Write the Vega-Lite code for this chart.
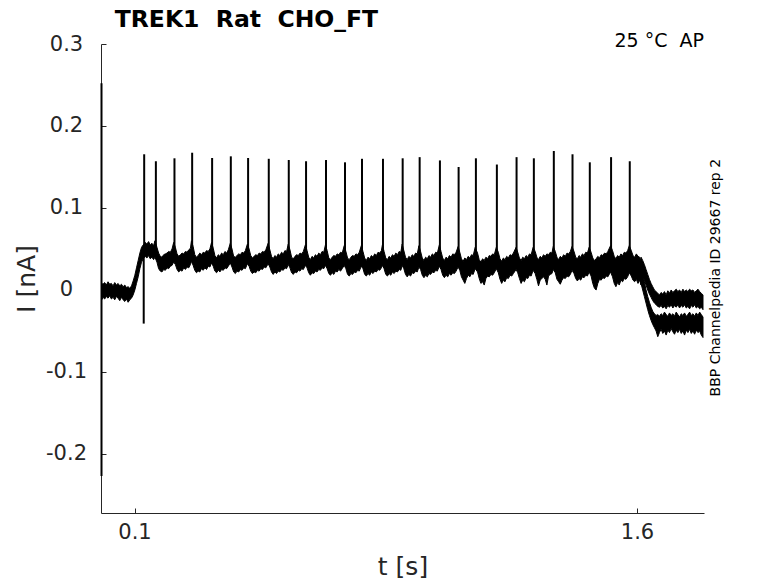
{
  "$schema": "https://vega.github.io/schema/vega-lite/v6.json",
  "width": 603,
  "height": 469,
  "autosize": {"type": "none"},
  "padding": {"left": 101, "top": 44, "right": 74, "bottom": 70},
  "datasets": {
    "band": [
      {"s":"m","t":0.002,"lo":-0.012,"hi":0.008},
      {"s":"m","t":0.006,"lo":-0.009,"hi":0.007},
      {"s":"m","t":0.011,"lo":-0.011,"hi":0.009},
      {"s":"m","t":0.016,"lo":-0.008,"hi":0.006},
      {"s":"m","t":0.021,"lo":-0.010,"hi":0.010},
      {"s":"m","t":0.026,"lo":-0.007,"hi":0.007},
      {"s":"m","t":0.031,"lo":-0.011,"hi":0.008},
      {"s":"m","t":0.036,"lo":-0.009,"hi":0.005},
      {"s":"m","t":0.041,"lo":-0.012,"hi":0.009},
      {"s":"m","t":0.046,"lo":-0.008,"hi":0.006},
      {"s":"m","t":0.051,"lo":-0.010,"hi":0.008},
      {"s":"m","t":0.056,"lo":-0.013,"hi":0.005},
      {"s":"m","t":0.061,"lo":-0.009,"hi":0.007},
      {"s":"m","t":0.066,"lo":-0.012,"hi":0.004},
      {"s":"m","t":0.071,"lo":-0.014,"hi":0.006},
      {"s":"m","t":0.076,"lo":-0.011,"hi":0.003},
      {"s":"m","t":0.081,"lo":-0.015,"hi":0.004},
      {"s":"m","t":0.086,"lo":-0.012,"hi":0.002},
      {"s":"m","t":0.091,"lo":-0.010,"hi":0.005},
      {"s":"m","t":0.096,"lo":-0.006,"hi":0.011},
      {"s":"m","t":0.101,"lo":0.000,"hi":0.018},
      {"s":"m","t":0.106,"lo":0.008,"hi":0.027},
      {"s":"m","t":0.111,"lo":0.016,"hi":0.036},
      {"s":"m","t":0.116,"lo":0.026,"hi":0.045},
      {"s":"m","t":0.121,"lo":0.034,"hi":0.052},
      {"s":"m","t":0.126,"lo":0.038,"hi":0.055},
      {"s":"m","t":0.132,"lo":0.041,"hi":0.058},
      {"s":"m","t":0.137,"lo":0.039,"hi":0.056},
      {"s":"m","t":0.142,"lo":0.042,"hi":0.059},
      {"s":"m","t":0.147,"lo":0.038,"hi":0.055},
      {"s":"m","t":0.152,"lo":0.040,"hi":0.057},
      {"s":"m","t":0.157,"lo":0.037,"hi":0.054},
      {"s":"m","t":0.161,"lo":0.040,"hi":0.060},
      {"s":"m","t":0.167,"lo":0.034,"hi":0.052},
      {"s":"m","t":0.172,"lo":0.026,"hi":0.045},
      {"s":"m","t":0.177,"lo":0.023,"hi":0.041},
      {"s":"m","t":0.182,"lo":0.022,"hi":0.040},
      {"s":"m","t":0.187,"lo":0.025,"hi":0.043},
      {"s":"m","t":0.192,"lo":0.024,"hi":0.044},
      {"s":"m","t":0.197,"lo":0.027,"hi":0.045},
      {"s":"m","t":0.202,"lo":0.026,"hi":0.047},
      {"s":"m","t":0.207,"lo":0.029,"hi":0.046},
      {"s":"m","t":0.212,"lo":0.030,"hi":0.050},
      {"s":"m","t":0.217,"lo":0.034,"hi":0.058},
      {"s":"m","t":0.222,"lo":0.031,"hi":0.052},
      {"s":"m","t":0.227,"lo":0.025,"hi":0.044},
      {"s":"m","t":0.232,"lo":0.022,"hi":0.041},
      {"s":"m","t":0.237,"lo":0.024,"hi":0.043},
      {"s":"m","t":0.242,"lo":0.023,"hi":0.045},
      {"s":"m","t":0.247,"lo":0.027,"hi":0.044},
      {"s":"m","t":0.252,"lo":0.025,"hi":0.047},
      {"s":"m","t":0.257,"lo":0.028,"hi":0.046},
      {"s":"m","t":0.262,"lo":0.027,"hi":0.049},
      {"s":"m","t":0.267,"lo":0.031,"hi":0.051},
      {"s":"m","t":0.270,"lo":0.035,"hi":0.060},
      {"s":"m","t":0.275,"lo":0.030,"hi":0.053},
      {"s":"m","t":0.280,"lo":0.024,"hi":0.043},
      {"s":"m","t":0.285,"lo":0.021,"hi":0.040},
      {"s":"m","t":0.290,"lo":0.023,"hi":0.042},
      {"s":"m","t":0.295,"lo":0.022,"hi":0.045},
      {"s":"m","t":0.300,"lo":0.026,"hi":0.043},
      {"s":"m","t":0.305,"lo":0.024,"hi":0.046},
      {"s":"m","t":0.310,"lo":0.027,"hi":0.045},
      {"s":"m","t":0.315,"lo":0.025,"hi":0.048},
      {"s":"m","t":0.320,"lo":0.029,"hi":0.047},
      {"s":"m","t":0.325,"lo":0.028,"hi":0.050},
      {"s":"m","t":0.330,"lo":0.033,"hi":0.058},
      {"s":"m","t":0.335,"lo":0.029,"hi":0.051},
      {"s":"m","t":0.340,"lo":0.023,"hi":0.042},
      {"s":"m","t":0.345,"lo":0.021,"hi":0.039},
      {"s":"m","t":0.350,"lo":0.024,"hi":0.043},
      {"s":"m","t":0.355,"lo":0.022,"hi":0.041},
      {"s":"m","t":0.360,"lo":0.025,"hi":0.045},
      {"s":"m","t":0.365,"lo":0.024,"hi":0.043},
      {"s":"m","t":0.370,"lo":0.027,"hi":0.047},
      {"s":"m","t":0.375,"lo":0.026,"hi":0.045},
      {"s":"m","t":0.380,"lo":0.029,"hi":0.049},
      {"s":"m","t":0.386,"lo":0.033,"hi":0.057},
      {"s":"m","t":0.391,"lo":0.028,"hi":0.050},
      {"s":"m","t":0.396,"lo":0.022,"hi":0.041},
      {"s":"m","t":0.401,"lo":0.020,"hi":0.040},
      {"s":"m","t":0.406,"lo":0.023,"hi":0.042},
      {"s":"m","t":0.411,"lo":0.022,"hi":0.044},
      {"s":"m","t":0.416,"lo":0.025,"hi":0.043},
      {"s":"m","t":0.421,"lo":0.024,"hi":0.046},
      {"s":"m","t":0.426,"lo":0.027,"hi":0.045},
      {"s":"m","t":0.431,"lo":0.026,"hi":0.048},
      {"s":"m","t":0.437,"lo":0.032,"hi":0.056},
      {"s":"m","t":0.442,"lo":0.029,"hi":0.050},
      {"s":"m","t":0.447,"lo":0.023,"hi":0.042},
      {"s":"m","t":0.452,"lo":0.020,"hi":0.039},
      {"s":"m","t":0.457,"lo":0.022,"hi":0.041},
      {"s":"m","t":0.462,"lo":0.021,"hi":0.043},
      {"s":"m","t":0.467,"lo":0.024,"hi":0.042},
      {"s":"m","t":0.472,"lo":0.023,"hi":0.045},
      {"s":"m","t":0.477,"lo":0.026,"hi":0.044},
      {"s":"m","t":0.482,"lo":0.025,"hi":0.047},
      {"s":"m","t":0.487,"lo":0.028,"hi":0.046},
      {"s":"m","t":0.492,"lo":0.027,"hi":0.049},
      {"s":"m","t":0.499,"lo":0.032,"hi":0.057},
      {"s":"m","t":0.504,"lo":0.028,"hi":0.049},
      {"s":"m","t":0.509,"lo":0.022,"hi":0.041},
      {"s":"m","t":0.514,"lo":0.019,"hi":0.038},
      {"s":"m","t":0.519,"lo":0.022,"hi":0.042},
      {"s":"m","t":0.524,"lo":0.020,"hi":0.040},
      {"s":"m","t":0.529,"lo":0.023,"hi":0.044},
      {"s":"m","t":0.534,"lo":0.022,"hi":0.042},
      {"s":"m","t":0.539,"lo":0.025,"hi":0.046},
      {"s":"m","t":0.544,"lo":0.024,"hi":0.044},
      {"s":"m","t":0.549,"lo":0.027,"hi":0.048},
      {"s":"m","t":0.554,"lo":0.026,"hi":0.047},
      {"s":"m","t":0.559,"lo":0.031,"hi":0.056},
      {"s":"m","t":0.564,"lo":0.027,"hi":0.049},
      {"s":"m","t":0.569,"lo":0.021,"hi":0.040},
      {"s":"m","t":0.574,"lo":0.019,"hi":0.038},
      {"s":"m","t":0.579,"lo":0.022,"hi":0.041},
      {"s":"m","t":0.584,"lo":0.021,"hi":0.043},
      {"s":"m","t":0.589,"lo":0.024,"hi":0.042},
      {"s":"m","t":0.594,"lo":0.023,"hi":0.045},
      {"s":"m","t":0.599,"lo":0.026,"hi":0.044},
      {"s":"m","t":0.604,"lo":0.025,"hi":0.047},
      {"s":"m","t":0.610,"lo":0.030,"hi":0.055},
      {"s":"m","t":0.615,"lo":0.027,"hi":0.048},
      {"s":"m","t":0.620,"lo":0.021,"hi":0.040},
      {"s":"m","t":0.625,"lo":0.018,"hi":0.037},
      {"s":"m","t":0.630,"lo":0.021,"hi":0.041},
      {"s":"m","t":0.635,"lo":0.020,"hi":0.039},
      {"s":"m","t":0.640,"lo":0.023,"hi":0.043},
      {"s":"m","t":0.645,"lo":0.022,"hi":0.041},
      {"s":"m","t":0.650,"lo":0.025,"hi":0.045},
      {"s":"m","t":0.655,"lo":0.024,"hi":0.043},
      {"s":"m","t":0.660,"lo":0.027,"hi":0.047},
      {"s":"m","t":0.665,"lo":0.026,"hi":0.046},
      {"s":"m","t":0.670,"lo":0.030,"hi":0.055},
      {"s":"m","t":0.675,"lo":0.026,"hi":0.048},
      {"s":"m","t":0.680,"lo":0.020,"hi":0.039},
      {"s":"m","t":0.685,"lo":0.018,"hi":0.037},
      {"s":"m","t":0.690,"lo":0.021,"hi":0.040},
      {"s":"m","t":0.695,"lo":0.019,"hi":0.042},
      {"s":"m","t":0.700,"lo":0.023,"hi":0.041},
      {"s":"m","t":0.705,"lo":0.022,"hi":0.044},
      {"s":"m","t":0.710,"lo":0.025,"hi":0.043},
      {"s":"m","t":0.715,"lo":0.023,"hi":0.046},
      {"s":"m","t":0.720,"lo":0.026,"hi":0.045},
      {"s":"m","t":0.726,"lo":0.030,"hi":0.054},
      {"s":"m","t":0.731,"lo":0.026,"hi":0.047},
      {"s":"m","t":0.736,"lo":0.019,"hi":0.039},
      {"s":"m","t":0.741,"lo":0.017,"hi":0.037},
      {"s":"m","t":0.746,"lo":0.020,"hi":0.040},
      {"s":"m","t":0.751,"lo":0.019,"hi":0.042},
      {"s":"m","t":0.756,"lo":0.022,"hi":0.041},
      {"s":"m","t":0.761,"lo":0.021,"hi":0.044},
      {"s":"m","t":0.766,"lo":0.024,"hi":0.043},
      {"s":"m","t":0.771,"lo":0.023,"hi":0.046},
      {"s":"m","t":0.777,"lo":0.029,"hi":0.054},
      {"s":"m","t":0.782,"lo":0.026,"hi":0.047},
      {"s":"m","t":0.787,"lo":0.019,"hi":0.039},
      {"s":"m","t":0.792,"lo":0.017,"hi":0.036},
      {"s":"m","t":0.797,"lo":0.020,"hi":0.040},
      {"s":"m","t":0.802,"lo":0.018,"hi":0.038},
      {"s":"m","t":0.807,"lo":0.022,"hi":0.042},
      {"s":"m","t":0.812,"lo":0.020,"hi":0.040},
      {"s":"m","t":0.817,"lo":0.023,"hi":0.044},
      {"s":"m","t":0.822,"lo":0.022,"hi":0.042},
      {"s":"m","t":0.827,"lo":0.025,"hi":0.046},
      {"s":"m","t":0.832,"lo":0.024,"hi":0.045},
      {"s":"m","t":0.837,"lo":0.027,"hi":0.048},
      {"s":"m","t":0.840,"lo":0.030,"hi":0.055},
      {"s":"m","t":0.845,"lo":0.026,"hi":0.047},
      {"s":"m","t":0.850,"lo":0.019,"hi":0.039},
      {"s":"m","t":0.855,"lo":0.017,"hi":0.037},
      {"s":"m","t":0.860,"lo":0.020,"hi":0.041},
      {"s":"m","t":0.865,"lo":0.018,"hi":0.039},
      {"s":"m","t":0.870,"lo":0.022,"hi":0.043},
      {"s":"m","t":0.875,"lo":0.020,"hi":0.041},
      {"s":"m","t":0.880,"lo":0.023,"hi":0.045},
      {"s":"m","t":0.885,"lo":0.022,"hi":0.043},
      {"s":"m","t":0.890,"lo":0.025,"hi":0.047},
      {"s":"m","t":0.895,"lo":0.024,"hi":0.046},
      {"s":"m","t":0.899,"lo":0.030,"hi":0.056},
      {"s":"m","t":0.904,"lo":0.026,"hi":0.048},
      {"s":"m","t":0.909,"lo":0.019,"hi":0.040},
      {"s":"m","t":0.914,"lo":0.016,"hi":0.037},
      {"s":"m","t":0.919,"lo":0.019,"hi":0.041},
      {"s":"m","t":0.924,"lo":0.017,"hi":0.039},
      {"s":"m","t":0.929,"lo":0.021,"hi":0.043},
      {"s":"m","t":0.934,"lo":0.020,"hi":0.041},
      {"s":"m","t":0.939,"lo":0.023,"hi":0.045},
      {"s":"m","t":0.944,"lo":0.022,"hi":0.044},
      {"s":"m","t":0.949,"lo":0.028,"hi":0.054},
      {"s":"m","t":0.954,"lo":0.025,"hi":0.047},
      {"s":"m","t":0.959,"lo":0.018,"hi":0.039},
      {"s":"m","t":0.964,"lo":0.015,"hi":0.036},
      {"s":"m","t":0.969,"lo":0.018,"hi":0.040},
      {"s":"m","t":0.974,"lo":0.016,"hi":0.038},
      {"s":"m","t":0.979,"lo":0.020,"hi":0.042},
      {"s":"m","t":0.984,"lo":0.019,"hi":0.040},
      {"s":"m","t":0.989,"lo":0.022,"hi":0.044},
      {"s":"m","t":0.994,"lo":0.021,"hi":0.042},
      {"s":"m","t":0.999,"lo":0.024,"hi":0.046},
      {"s":"m","t":1.004,"lo":0.023,"hi":0.045},
      {"s":"m","t":1.010,"lo":0.029,"hi":0.055},
      {"s":"m","t":1.015,"lo":0.025,"hi":0.047},
      {"s":"m","t":1.020,"lo":0.018,"hi":0.039},
      {"s":"m","t":1.025,"lo":0.015,"hi":0.036},
      {"s":"m","t":1.030,"lo":0.018,"hi":0.040},
      {"s":"m","t":1.035,"lo":0.016,"hi":0.038},
      {"s":"m","t":1.040,"lo":0.020,"hi":0.042},
      {"s":"m","t":1.045,"lo":0.018,"hi":0.040},
      {"s":"m","t":1.050,"lo":0.021,"hi":0.044},
      {"s":"m","t":1.055,"lo":0.020,"hi":0.043},
      {"s":"m","t":1.060,"lo":0.023,"hi":0.046},
      {"s":"m","t":1.066,"lo":0.028,"hi":0.053},
      {"s":"m","t":1.071,"lo":0.024,"hi":0.046},
      {"s":"m","t":1.076,"lo":0.016,"hi":0.038},
      {"s":"m","t":1.081,"lo":0.012,"hi":0.035},
      {"s":"m","t":1.086,"lo":0.008,"hi":0.039},
      {"s":"m","t":1.091,"lo":0.014,"hi":0.037},
      {"s":"m","t":1.096,"lo":0.018,"hi":0.041},
      {"s":"m","t":1.101,"lo":0.016,"hi":0.039},
      {"s":"m","t":1.106,"lo":0.020,"hi":0.043},
      {"s":"m","t":1.111,"lo":0.019,"hi":0.042},
      {"s":"m","t":1.117,"lo":0.026,"hi":0.052},
      {"s":"m","t":1.124,"lo":0.022,"hi":0.045},
      {"s":"m","t":1.129,"lo":0.014,"hi":0.037},
      {"s":"m","t":1.134,"lo":0.008,"hi":0.034},
      {"s":"m","t":1.139,"lo":0.010,"hi":0.038},
      {"s":"m","t":1.144,"lo":0.006,"hi":0.036},
      {"s":"m","t":1.149,"lo":0.014,"hi":0.040},
      {"s":"m","t":1.154,"lo":0.017,"hi":0.038},
      {"s":"m","t":1.159,"lo":0.016,"hi":0.042},
      {"s":"m","t":1.164,"lo":0.019,"hi":0.041},
      {"s":"m","t":1.169,"lo":0.018,"hi":0.044},
      {"s":"m","t":1.174,"lo":0.021,"hi":0.043},
      {"s":"m","t":1.180,"lo":0.026,"hi":0.052},
      {"s":"m","t":1.186,"lo":0.021,"hi":0.046},
      {"s":"m","t":1.191,"lo":0.013,"hi":0.038},
      {"s":"m","t":1.196,"lo":0.008,"hi":0.035},
      {"s":"m","t":1.201,"lo":0.012,"hi":0.039},
      {"s":"m","t":1.206,"lo":0.010,"hi":0.037},
      {"s":"m","t":1.211,"lo":0.015,"hi":0.041},
      {"s":"m","t":1.216,"lo":0.014,"hi":0.039},
      {"s":"m","t":1.221,"lo":0.018,"hi":0.043},
      {"s":"m","t":1.226,"lo":0.017,"hi":0.042},
      {"s":"m","t":1.231,"lo":0.020,"hi":0.045},
      {"s":"m","t":1.239,"lo":0.025,"hi":0.052},
      {"s":"m","t":1.244,"lo":0.021,"hi":0.046},
      {"s":"m","t":1.249,"lo":0.014,"hi":0.039},
      {"s":"m","t":1.254,"lo":0.008,"hi":0.036},
      {"s":"m","t":1.259,"lo":0.012,"hi":0.040},
      {"s":"m","t":1.264,"lo":0.010,"hi":0.038},
      {"s":"m","t":1.269,"lo":0.015,"hi":0.042},
      {"s":"m","t":1.274,"lo":0.014,"hi":0.040},
      {"s":"m","t":1.279,"lo":0.018,"hi":0.044},
      {"s":"m","t":1.284,"lo":0.017,"hi":0.043},
      {"s":"m","t":1.290,"lo":0.024,"hi":0.052},
      {"s":"m","t":1.296,"lo":0.020,"hi":0.047},
      {"s":"m","t":1.301,"lo":0.013,"hi":0.040},
      {"s":"m","t":1.306,"lo":0.005,"hi":0.037},
      {"s":"m","t":1.311,"lo":0.012,"hi":0.041},
      {"s":"m","t":1.316,"lo":0.014,"hi":0.039},
      {"s":"m","t":1.321,"lo":0.016,"hi":0.043},
      {"s":"m","t":1.326,"lo":0.013,"hi":0.041},
      {"s":"m","t":1.331,"lo":0.006,"hi":0.044},
      {"s":"m","t":1.336,"lo":0.017,"hi":0.043},
      {"s":"m","t":1.341,"lo":0.019,"hi":0.046},
      {"s":"m","t":1.346,"lo":0.020,"hi":0.045},
      {"s":"m","t":1.350,"lo":0.025,"hi":0.053},
      {"s":"m","t":1.356,"lo":0.021,"hi":0.047},
      {"s":"m","t":1.361,"lo":0.013,"hi":0.040},
      {"s":"m","t":1.366,"lo":0.010,"hi":0.037},
      {"s":"m","t":1.371,"lo":0.007,"hi":0.041},
      {"s":"m","t":1.376,"lo":0.012,"hi":0.039},
      {"s":"m","t":1.381,"lo":0.015,"hi":0.043},
      {"s":"m","t":1.386,"lo":0.014,"hi":0.041},
      {"s":"m","t":1.391,"lo":0.017,"hi":0.045},
      {"s":"m","t":1.396,"lo":0.016,"hi":0.044},
      {"s":"m","t":1.401,"lo":0.019,"hi":0.047},
      {"s":"m","t":1.406,"lo":0.024,"hi":0.053},
      {"s":"m","t":1.412,"lo":0.020,"hi":0.047},
      {"s":"m","t":1.417,"lo":0.014,"hi":0.040},
      {"s":"m","t":1.422,"lo":0.011,"hi":0.038},
      {"s":"m","t":1.427,"lo":0.014,"hi":0.042},
      {"s":"m","t":1.432,"lo":0.012,"hi":0.040},
      {"s":"m","t":1.437,"lo":0.016,"hi":0.044},
      {"s":"m","t":1.442,"lo":0.015,"hi":0.042},
      {"s":"m","t":1.447,"lo":0.018,"hi":0.046},
      {"s":"m","t":1.452,"lo":0.017,"hi":0.045},
      {"s":"m","t":1.457,"lo":0.022,"hi":0.052},
      {"s":"m","t":1.463,"lo":0.017,"hi":0.046},
      {"s":"m","t":1.468,"lo":0.008,"hi":0.039},
      {"s":"m","t":1.473,"lo":0.002,"hi":0.036},
      {"s":"m","t":1.478,"lo":0.000,"hi":0.038},
      {"s":"m","t":1.483,"lo":0.008,"hi":0.041},
      {"s":"m","t":1.488,"lo":0.013,"hi":0.039},
      {"s":"m","t":1.493,"lo":0.012,"hi":0.043},
      {"s":"m","t":1.498,"lo":0.015,"hi":0.042},
      {"s":"m","t":1.503,"lo":0.014,"hi":0.045},
      {"s":"m","t":1.508,"lo":0.017,"hi":0.044},
      {"s":"m","t":1.513,"lo":0.016,"hi":0.047},
      {"s":"m","t":1.521,"lo":0.022,"hi":0.054},
      {"s":"m","t":1.527,"lo":0.016,"hi":0.048},
      {"s":"m","t":1.532,"lo":0.008,"hi":0.041},
      {"s":"m","t":1.537,"lo":0.004,"hi":0.038},
      {"s":"m","t":1.542,"lo":0.009,"hi":0.042},
      {"s":"m","t":1.547,"lo":0.006,"hi":0.040},
      {"s":"m","t":1.552,"lo":0.012,"hi":0.044},
      {"s":"m","t":1.557,"lo":0.010,"hi":0.042},
      {"s":"m","t":1.562,"lo":0.014,"hi":0.046},
      {"s":"m","t":1.567,"lo":0.013,"hi":0.045},
      {"s":"m","t":1.572,"lo":0.016,"hi":0.048},
      {"s":"m","t":1.577,"lo":0.021,"hi":0.054},
      {"s":"m","t":1.583,"lo":0.017,"hi":0.048},
      {"s":"m","t":1.588,"lo":0.012,"hi":0.042},
      {"s":"m","t":1.593,"lo":0.010,"hi":0.040},
      {"s":"m","t":1.598,"lo":0.013,"hi":0.044},
      {"s":"m","t":1.603,"lo":0.008,"hi":0.041},
      {"s":"m","t":1.608,"lo":0.012,"hi":0.040},
      {"s":"m","t":1.612,"lo":0.006,"hi":0.036},
      {"s":"u","t":1.612,"lo":0.022,"hi":0.040},
      {"s":"u","t":1.617,"lo":0.018,"hi":0.036},
      {"s":"u","t":1.622,"lo":0.012,"hi":0.031},
      {"s":"u","t":1.627,"lo":0.006,"hi":0.025},
      {"s":"u","t":1.632,"lo":0.000,"hi":0.019},
      {"s":"u","t":1.637,"lo":-0.005,"hi":0.013},
      {"s":"u","t":1.642,"lo":-0.009,"hi":0.008},
      {"s":"u","t":1.647,"lo":-0.013,"hi":0.004},
      {"s":"u","t":1.652,"lo":-0.016,"hi":0.000},
      {"s":"u","t":1.657,"lo":-0.018,"hi":-0.002},
      {"s":"u","t":1.662,"lo":-0.020,"hi":-0.004},
      {"s":"u","t":1.667,"lo":-0.021,"hi":-0.006},
      {"s":"u","t":1.672,"lo":-0.019,"hi":-0.003},
      {"s":"u","t":1.677,"lo":-0.022,"hi":-0.005},
      {"s":"u","t":1.682,"lo":-0.020,"hi":-0.002},
      {"s":"u","t":1.687,"lo":-0.023,"hi":-0.006},
      {"s":"u","t":1.692,"lo":-0.019,"hi":-0.001},
      {"s":"u","t":1.697,"lo":-0.021,"hi":-0.004},
      {"s":"u","t":1.702,"lo":-0.018,"hi":0.000},
      {"s":"u","t":1.707,"lo":-0.022,"hi":-0.003},
      {"s":"u","t":1.712,"lo":-0.019,"hi":-0.001},
      {"s":"u","t":1.717,"lo":-0.021,"hi":0.001},
      {"s":"u","t":1.722,"lo":-0.018,"hi":-0.002},
      {"s":"u","t":1.727,"lo":-0.022,"hi":0.000},
      {"s":"u","t":1.732,"lo":-0.019,"hi":-0.003},
      {"s":"u","t":1.737,"lo":-0.021,"hi":0.001},
      {"s":"u","t":1.742,"lo":-0.018,"hi":-0.002},
      {"s":"u","t":1.747,"lo":-0.022,"hi":0.000},
      {"s":"u","t":1.752,"lo":-0.020,"hi":-0.002},
      {"s":"u","t":1.757,"lo":-0.023,"hi":0.001},
      {"s":"u","t":1.762,"lo":-0.019,"hi":-0.001},
      {"s":"u","t":1.767,"lo":-0.021,"hi":0.000},
      {"s":"u","t":1.772,"lo":-0.018,"hi":-0.003},
      {"s":"u","t":1.777,"lo":-0.022,"hi":-0.001},
      {"s":"u","t":1.782,"lo":-0.020,"hi":0.001},
      {"s":"u","t":1.787,"lo":-0.023,"hi":-0.002},
      {"s":"u","t":1.792,"lo":-0.021,"hi":-0.004},
      {"s":"u","t":1.797,"lo":-0.024,"hi":-0.006},
      {"s":"l","t":1.612,"lo":0.008,"hi":0.030},
      {"s":"l","t":1.617,"lo":0.000,"hi":0.020},
      {"s":"l","t":1.622,"lo":-0.008,"hi":0.010},
      {"s":"l","t":1.627,"lo":-0.016,"hi":0.000},
      {"s":"l","t":1.632,"lo":-0.024,"hi":-0.008},
      {"s":"l","t":1.637,"lo":-0.031,"hi":-0.015},
      {"s":"l","t":1.642,"lo":-0.037,"hi":-0.021},
      {"s":"l","t":1.647,"lo":-0.042,"hi":-0.026},
      {"s":"l","t":1.652,"lo":-0.046,"hi":-0.029},
      {"s":"l","t":1.657,"lo":-0.050,"hi":-0.031},
      {"s":"l","t":1.662,"lo":-0.057,"hi":-0.030},
      {"s":"l","t":1.667,"lo":-0.052,"hi":-0.032},
      {"s":"l","t":1.672,"lo":-0.048,"hi":-0.029},
      {"s":"l","t":1.677,"lo":-0.053,"hi":-0.031},
      {"s":"l","t":1.682,"lo":-0.050,"hi":-0.027},
      {"s":"l","t":1.687,"lo":-0.055,"hi":-0.030},
      {"s":"l","t":1.692,"lo":-0.049,"hi":-0.032},
      {"s":"l","t":1.697,"lo":-0.052,"hi":-0.028},
      {"s":"l","t":1.702,"lo":-0.047,"hi":-0.031},
      {"s":"l","t":1.707,"lo":-0.051,"hi":-0.029},
      {"s":"l","t":1.712,"lo":-0.054,"hi":-0.032},
      {"s":"l","t":1.717,"lo":-0.049,"hi":-0.027},
      {"s":"l","t":1.722,"lo":-0.052,"hi":-0.030},
      {"s":"l","t":1.727,"lo":-0.048,"hi":-0.033},
      {"s":"l","t":1.732,"lo":-0.053,"hi":-0.029},
      {"s":"l","t":1.737,"lo":-0.050,"hi":-0.031},
      {"s":"l","t":1.742,"lo":-0.055,"hi":-0.028},
      {"s":"l","t":1.747,"lo":-0.049,"hi":-0.032},
      {"s":"l","t":1.752,"lo":-0.052,"hi":-0.030},
      {"s":"l","t":1.757,"lo":-0.048,"hi":-0.027},
      {"s":"l","t":1.762,"lo":-0.053,"hi":-0.031},
      {"s":"l","t":1.767,"lo":-0.050,"hi":-0.029},
      {"s":"l","t":1.772,"lo":-0.054,"hi":-0.032},
      {"s":"l","t":1.777,"lo":-0.049,"hi":-0.028},
      {"s":"l","t":1.782,"lo":-0.052,"hi":-0.031},
      {"s":"l","t":1.787,"lo":-0.050,"hi":-0.027},
      {"s":"l","t":1.792,"lo":-0.055,"hi":-0.030},
      {"s":"l","t":1.797,"lo":-0.058,"hi":-0.033}
    ],
    "spikes": [
      {"t":0.0015,"lo":-0.227,"hi":0.252},
      {"t":0.1275,"lo":-0.041,"hi":0.040},
      {"t":0.1289,"lo":0.040,"hi":0.1655},
      {"t":0.1638,"lo":0.040,"hi":0.157},
      {"t":0.2193,"lo":0.040,"hi":0.1606},
      {"t":0.2721,"lo":0.040,"hi":0.1674},
      {"t":0.3317,"lo":0.040,"hi":0.161},
      {"t":0.3875,"lo":0.040,"hi":0.163},
      {"t":0.4391,"lo":0.040,"hi":0.161},
      {"t":0.5008,"lo":0.040,"hi":0.160},
      {"t":0.5605,"lo":0.040,"hi":0.1585},
      {"t":0.6121,"lo":0.040,"hi":0.157},
      {"t":0.6717,"lo":0.040,"hi":0.1585},
      {"t":0.7284,"lo":0.040,"hi":0.1557},
      {"t":0.7791,"lo":0.040,"hi":0.160},
      {"t":0.8417,"lo":0.040,"hi":0.160},
      {"t":0.9005,"lo":0.040,"hi":0.1606},
      {"t":0.9512,"lo":0.040,"hi":0.162},
      {"t":1.0117,"lo":0.040,"hi":0.158},
      {"t":1.0675,"lo":0.040,"hi":0.150},
      {"t":1.1191,"lo":0.040,"hi":0.1606},
      {"t":1.1817,"lo":0.040,"hi":0.153},
      {"t":1.2405,"lo":0.040,"hi":0.162},
      {"t":1.2921,"lo":0.040,"hi":0.1606},
      {"t":1.3517,"lo":0.040,"hi":0.1695},
      {"t":1.4075,"lo":0.040,"hi":0.1655},
      {"t":1.4591,"lo":0.040,"hi":0.1557},
      {"t":1.5226,"lo":0.040,"hi":0.162},
      {"t":1.5784,"lo":0.040,"hi":0.157}
    ],
    "notes": [
      {"t":0.041,"lo":0.3205,"txt":"TREK1\u00a0 Rat\u00a0 CHO_FT","kind":"title"},
      {"t":1.8,"lo":0.3,"txt":"25 °C\u00a0 AP","kind":"temp"},
      {"t":1.836,"lo":0.015,"txt":"BBP Channelpedia ID 29667 rep 2","kind":"id"}
    ]
  },
  "layer": [
    {
      "data": {"name": "band"},
      "mark": {"type": "area", "color": "black", "stroke": "black", "strokeWidth": 1},
      "encoding": {
        "x": {
          "field": "t",
          "type": "quantitative",
          "title": "t [s]",
          "scale": {"domain": [0, 1.8], "nice": false, "zero": false},
          "axis": {"values": [0.1, 1.6], "labelPadding": 13, "titlePadding": 12}
        },
        "y": {
          "field": "lo",
          "type": "quantitative",
          "title": "I [nA]",
          "scale": {"domain": [-0.272, 0.3], "nice": false, "zero": false},
          "axis": {
            "values": [-0.2, -0.1, 0, 0.1, 0.2, 0.3],
            "labelExpr": "datum.value == 0 ? '0\u00a0\u00a0' : (datum.value < 0 ? '-' : '') + format(abs(datum.value), '.1f')",
            "labelAlign": "center",
            "labelPadding": 40,
            "titlePadding": 6
          }
        },
        "y2": {"field": "hi"},
        "detail": {"field": "s"}
      }
    },
    {
      "data": {"name": "spikes"},
      "mark": {"type": "rule", "color": "black", "strokeWidth": 2},
      "encoding": {
        "x": {"field": "t", "type": "quantitative", "title": "t [s]"},
        "y": {"field": "lo", "type": "quantitative", "title": "I [nA]"},
        "y2": {"field": "hi"}
      }
    },
    {
      "data": {"name": "notes"},
      "transform": [{"filter": "datum.kind == 'title'"}],
      "mark": {"type": "text", "align": "left", "baseline": "alphabetic", "font": "DejaVu Sans", "fontSize": 23.5, "fontWeight": "bold", "color": "black"},
      "encoding": {
        "x": {"field": "t", "type": "quantitative", "title": "t [s]"},
        "y": {"field": "lo", "type": "quantitative", "title": "I [nA]"},
        "text": {"field": "txt"}
      }
    },
    {
      "data": {"name": "notes"},
      "transform": [{"filter": "datum.kind == 'temp'"}],
      "mark": {"type": "text", "align": "right", "baseline": "middle", "dy": -3, "font": "DejaVu Sans", "fontSize": 19, "color": "black"},
      "encoding": {
        "x": {"field": "t", "type": "quantitative", "title": "t [s]"},
        "y": {"field": "lo", "type": "quantitative", "title": "I [nA]"},
        "text": {"field": "txt"}
      }
    },
    {
      "data": {"name": "notes"},
      "transform": [{"filter": "datum.kind == 'id'"}],
      "mark": {"type": "text", "align": "center", "baseline": "middle", "angle": 270, "font": "DejaVu Sans", "fontSize": 14, "color": "black"},
      "encoding": {
        "x": {"field": "t", "type": "quantitative", "title": "t [s]"},
        "y": {"field": "lo", "type": "quantitative", "title": "I [nA]"},
        "text": {"field": "txt"}
      }
    }
  ],
  "config": {
    "view": {"stroke": null},
    "axis": {
      "grid": false,
      "domainColor": "#262626",
      "domainWidth": 1,
      "tickColor": "#262626",
      "tickSize": -5,
      "labelColor": "#262626",
      "labelFont": "DejaVu Sans",
      "labelFontSize": 21,
      "titleColor": "#262626",
      "titleFont": "DejaVu Sans",
      "titleFontSize": 25,
      "titleFontWeight": "normal"
    }
  }
}
